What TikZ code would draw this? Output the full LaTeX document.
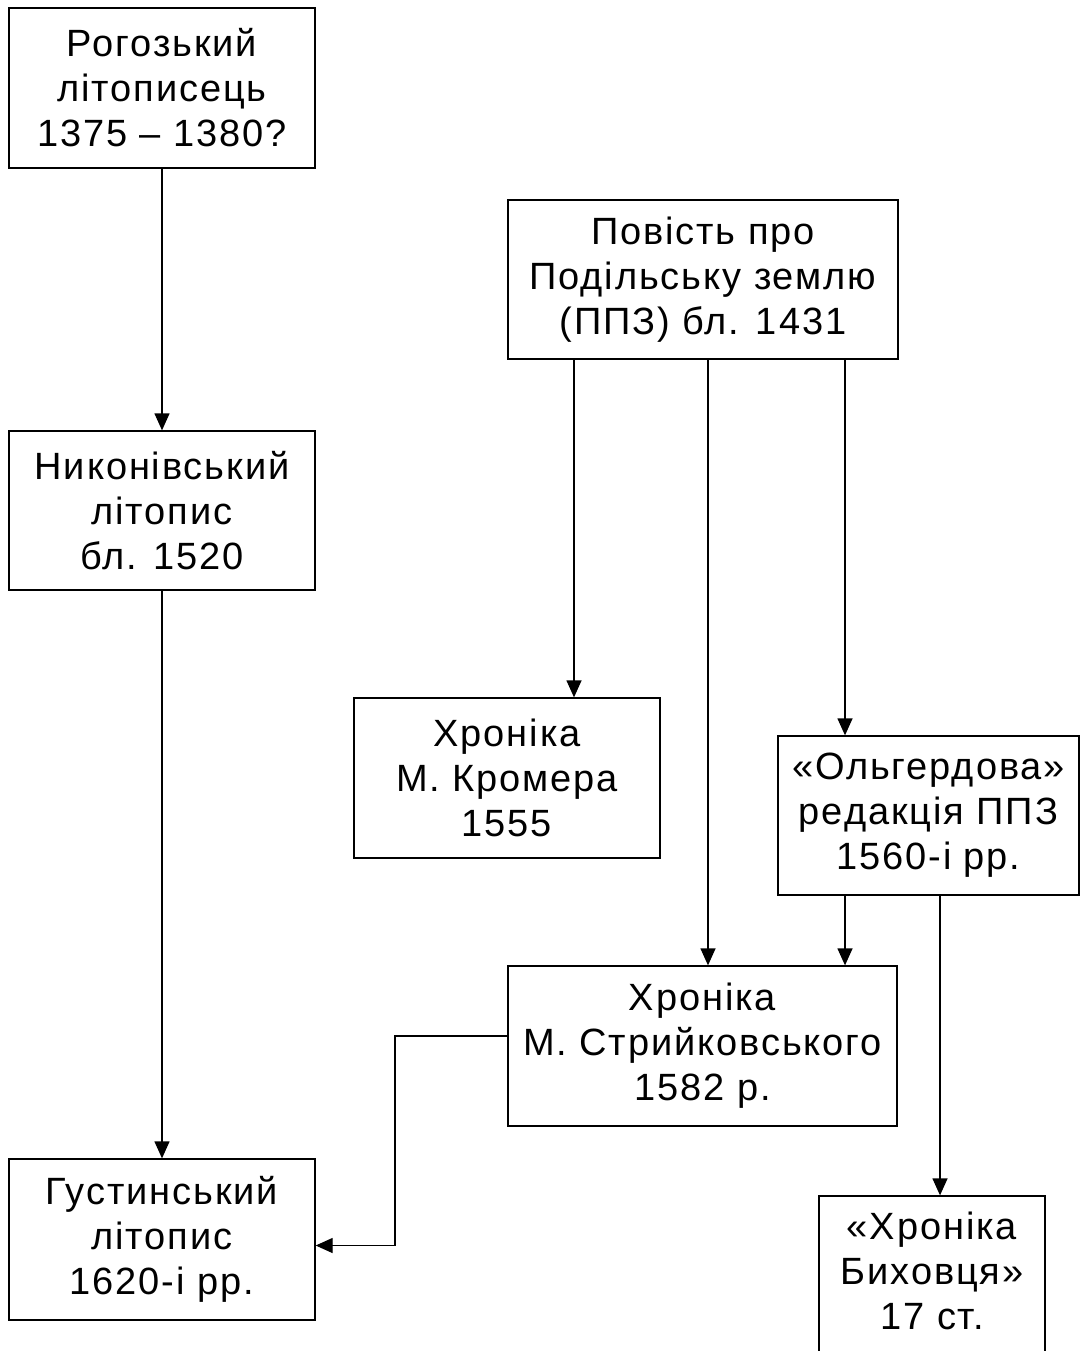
\documentclass[tikz,border=0pt]{standalone}
\usepackage{fontspec}
\newfontfamily\labfont[LetterSpace=5]{Liberation Sans}
\usetikzlibrary{arrows.meta}
\begin{document}
\begin{tikzpicture}[x=1pt,y=-1pt,
  box/.style={draw, line width=1.3pt, inner sep=0pt, align=center,
    font=\labfont\fontsize{38}{45}\selectfont},
  arr/.style={-{Triangle[width=15pt,length=17pt]}, line width=1.3pt}]
\clip (0,0) rectangle (1081,1351);
\fill[white] (0,0) rectangle (1081,1351);
\node[box, minimum width=306, minimum height=160] (A) at (162,88) {Рогозький\\літописець\\1375 – 1380?};
\node[box, minimum width=306, minimum height=159] (B) at (162,510.5) {Никонівський\\літопис\\бл. 1520};
\node[box, minimum width=306, minimum height=161] (C) at (162,1239.5) {Густинський\\літопис\\1620-і рр.};
\node[box, minimum width=390, minimum height=159] (D) at (703,279.5) {Повість про\\Подільську землю\\(ППЗ) бл. 1431};
\node[box, minimum width=306, minimum height=160] (E) at (507,778) {Хроніка\\М. Кромера\\1555};
\node[box, minimum width=301, minimum height=159] (F) at (928.5,815.5) {«Ольгердова»\\редакція ППЗ\\1560-і рр.};
\node[box, minimum width=389, minimum height=160] (G) at (702.5,1046) {Хроніка\\М. Стрийковського\\1582 р.};
\node[box, minimum width=226, minimum height=200, text depth=0pt] (H) at (932,1296) {};
\node[font=\labfont\fontsize{38}{45}\selectfont, align=center, anchor=north] (Ht) at (932,1208) {«Хроніка\\Биховця»\\17 ст.};
\coordinate (xE) at (574,0);
\coordinate (xG) at (708,0);
\coordinate (xF) at (845,0);
\coordinate (xH) at (940,0);
\coordinate (xM) at (395,0);
\draw[arr] (A) -- (B);
\draw[arr] (B) -- (C);
\draw[arr] (D.south -| xE) -- (E.north -| xE);
\draw[arr] (D.south -| xG) -- (G.north -| xG);
\draw[arr] (D.south -| xF) -- (F.north -| xF);
\draw[arr] (F.south -| xF) -- (G.north -| xF);
\draw[arr] (F.south -| xH) -- (H.north -| xH);
\draw[arr] ([yshift=10]G.west) -- ([yshift=10]G.west -| xM) -- ([yshift=-6]C.east -| xM) -- ([yshift=-6]C.east);
\end{tikzpicture}
\end{document}
